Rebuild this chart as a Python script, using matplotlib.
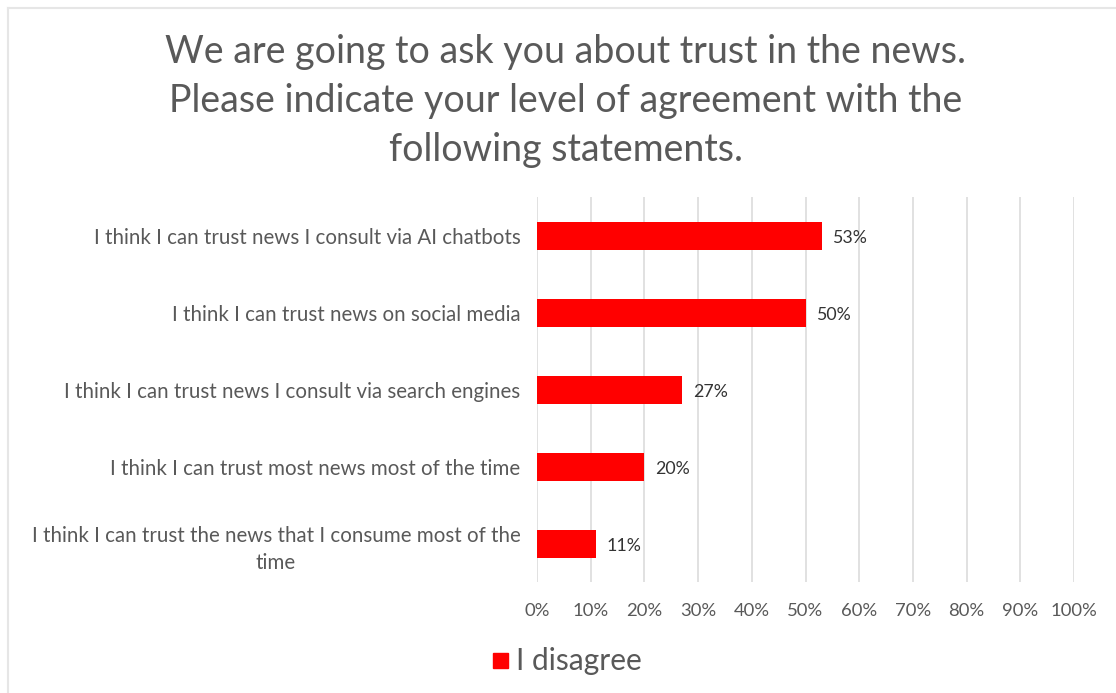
import matplotlib.pyplot as plt
from matplotlib.lines import Line2D
from matplotlib.patches import Rectangle

plt.rcParams['font.family'] = ['Lato', 'DejaVu Sans']

statements = [
    "I think I can trust news I consult via AI chatbots",
    "I think I can trust news on social media",
    "I think I can trust news I consult via search engines",
    "I think I can trust most news most of the time",
    "I think I can trust the news that I consume most of the\ntime",
]
disagree = [53, 50, 27, 20, 11]
ticks = list(range(0, 101, 10))

grey = "#595959"
red = "#ff0000"

fig = plt.figure(figsize=(11.16, 6.93), dpi=100)
ax = fig.add_axes([0.4812, 0.1595, 0.4812, 0.5556])

y = list(range(len(statements)))
ax.barh(y, disagree, height=0.36, color=red, zorder=3)
for yi, v in zip(y, disagree):
    ax.text(v + 2.0, yi + 0.03, f"{v}%", va="center", ha="left", fontsize=12.8,
            color="#333333")

ax.set_xlim(0, 100)
ax.set_ylim(len(statements) - 0.5, -0.5)
ax.set_xticks(ticks)
ax.set_xticklabels([f"{t}%" for t in ticks], fontsize=13.3, color=grey)
ax.set_yticks(y)
ax.set_yticklabels(statements, fontsize=14.8, color=grey, multialignment="center",
                   linespacing=1.45)
ax.tick_params(axis="x", length=0, pad=15)
ax.tick_params(axis="y", length=0, pad=12)
ax.grid(axis="x", color="#dcdcdc", linewidth=1.2, zorder=0)
for s in ax.spines.values():
    s.set_visible(False)

fig.text(0.507, 0.951, "We are going to ask you about trust in the news.\n"
         "Please indicate your level of agreement with the\nfollowing statements.",
         ha="center", va="top", fontsize=27, color=grey, linespacing=1.45)

# legend
fig.patches.append(Rectangle((493 / 1116, 1 - 668 / 693), 15 / 1116, 15 / 693,
                             transform=fig.transFigure, color=red))
fig.text(516 / 1116, 1 - 661 / 693, "I disagree", ha="left", va="center",
         fontsize=21.5, color=grey)

# chart frame edges
fig.add_artist(Line2D([8 / 1116, 1], [1 - 8 / 693] * 2, color="#e6e6e6", lw=1.5))
fig.add_artist(Line2D([8 / 1116] * 2, [0, 1 - 8 / 693], color="#e6e6e6", lw=1.5))

fig.savefig("out.png", dpi=100)
